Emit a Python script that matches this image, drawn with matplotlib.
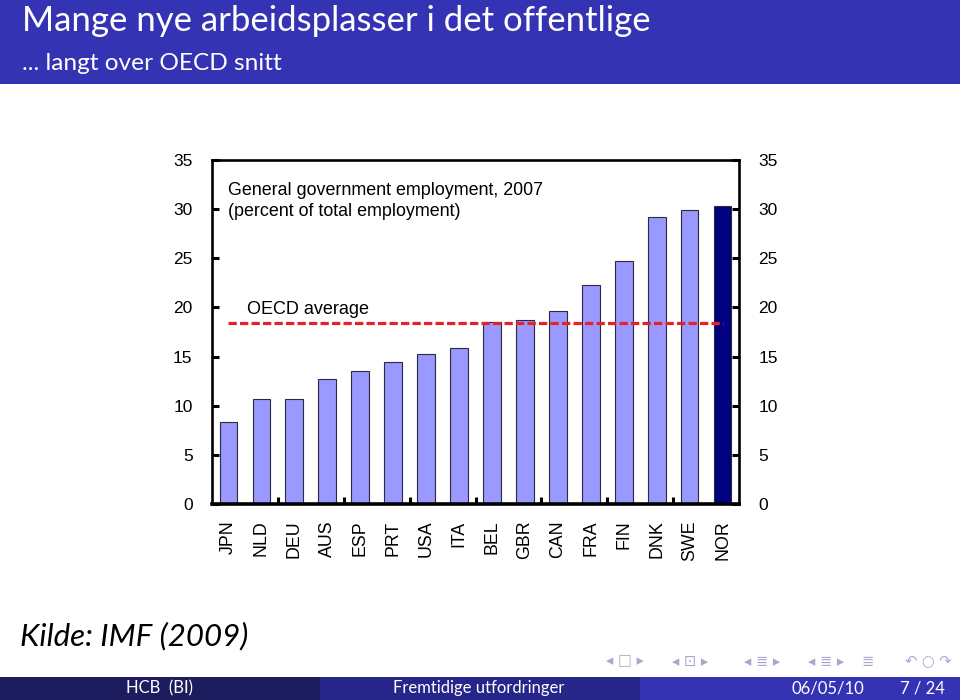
import matplotlib
matplotlib.use("Agg")
import matplotlib.pyplot as plt
from matplotlib.patches import Rectangle
import numpy as np

# ---- data ----
categories = ["JPN", "NLD", "DEU", "AUS", "ESP", "PRT", "USA", "ITA",
              "BEL", "GBR", "CAN", "FRA", "FIN", "DNK", "SWE", "NOR"]
values = [8.3, 10.7, 10.7, 12.7, 13.5, 14.4, 15.3, 15.9,
          18.5, 18.7, 19.6, 22.3, 24.7, 29.2, 29.9, 30.3]
oecd_avg = 18.4
highlight = "NOR"
yticks = [0, 5, 10, 15, 20, 25, 30, 35]

slide_title = "Mange nye arbeidsplasser i det offentlige"
slide_subtitle = "... langt over OECD snitt"
chart_note = "General government employment, 2007\n(percent of total employment)"
avg_label = "OECD average"
source = "Kilde: IMF (2009)"
foot_left = "HCB  (BI)"
foot_mid = "Fremtidige utfordringer"
foot_date = "06/05/10"
foot_page = "7 / 24"

W, H = 960, 700
fig = plt.figure(figsize=(W / 100, H / 100), dpi=100)
fig.patch.set_facecolor("white")

def fx(px):
    return px / W

def fy(py):
    return 1 - py / H

SLIDE_FONT = ["Lato", "DejaVu Sans"]

# ---- header band ----
fig.patches.append(Rectangle((0, fy(84)), 1, 84 / H, transform=fig.transFigure,
                             facecolor="#3333b3", edgecolor="none", zorder=0))
fig.text(fx(22), fy(21), slide_title, color="white", fontsize=25,
         family=SLIDE_FONT, va="center", ha="left")
fig.text(fx(22), fy(63), slide_subtitle, color="white", fontsize=17.6,
         family=SLIDE_FONT, va="center", ha="left")

# ---- footer band ----
fig.patches.append(Rectangle((0, 0), fx(320), 23 / H, transform=fig.transFigure,
                             facecolor="#1c1c5e", edgecolor="none"))
fig.patches.append(Rectangle((fx(320), 0), fx(320), 23 / H, transform=fig.transFigure,
                             facecolor="#26268a", edgecolor="none"))
fig.patches.append(Rectangle((fx(640), 0), fx(320), 23 / H, transform=fig.transFigure,
                             facecolor="#3333b3", edgecolor="none"))
for txt, px in [(foot_left, 160), (foot_mid, 479), (foot_date, 828), (foot_page, 922)]:
    fig.text(fx(px), fy(688), txt, color="white", fontsize=12,
             ha="center", va="center", family=SLIDE_FONT)

# navigation symbols
nav_groups = [("◂ □ ▸", 625), ("◂ ⊡ ▸", 690), ("◂ ≣ ▸", 762), ("◂ ≣ ▸", 826),
              ("≣", 868), ("↶ ○ ↷", 928)]
for sym, px in nav_groups:
    fig.text(fx(px), fy(661), sym, color="#a8a8cc", fontsize=10.5, ha="center",
             va="center", family="DejaVu Sans")

# source
fig.text(fx(20), fy(636), source, color="black", fontsize=22.5, style="italic",
         ha="left", va="center", family=SLIDE_FONT)

# ---- chart ----
ax = fig.add_axes([fx(212), fy(504), fx(739) - fx(212), (504 - 160) / H])
x = np.arange(len(categories))
colors = ["#000080" if c == highlight else "#9999ff" for c in categories]
ax.bar(x, values, width=0.54, color=colors, edgecolor="#2a2a40", linewidth=0.8, zorder=2)
ax.hlines(oecd_avg, x[0], x[-1], colors="#e8202a", linestyles=(0, (2.6, 1.0)),
          linewidth=2.3, zorder=3)

ax.set_xlim(-0.5, len(categories) - 0.5)
ax.set_ylim(yticks[0], yticks[-1])
ax.set_yticks(yticks)
ax.set_yticklabels([str(t) for t in yticks])
ax.set_xticks(np.arange(1.5, len(categories) - 1, 2))
ax.set_xticklabels([])
ax.tick_params(axis="x", direction="in", length=5, width=2.2, color="black")
ax.tick_params(axis="y", direction="in", length=5, width=2.2, labelsize=12.5,
               pad=14, left=True, right=True, labelleft=True, labelright=True)
for lab in ax.get_yticklabels():
    lab.set_family("Liberation Sans")

for i, c in enumerate(categories):
    ax.annotate(c, xy=(i, 0), xycoords=("data", "axes fraction"),
                xytext=(0, -12), textcoords="offset points",
                rotation=90, ha="center", va="top", fontsize=12.8,
                family="Liberation Sans")

for s in ["left", "right", "top"]:
    ax.spines[s].set_linewidth(1.9)
ax.spines["bottom"].set_linewidth(2.6)

ax.text(0.031, 0.881, chart_note, transform=ax.transAxes, fontsize=12.9,
        family="Liberation Sans", ha="left", va="center", linespacing=1.25)
ax.annotate(avg_label, xy=(0.066, oecd_avg), xycoords=("axes fraction", "data"),
            xytext=(0, 9.5), textcoords="offset points", fontsize=13,
            family="Liberation Sans", ha="left", va="center")

fig.savefig("out.png", dpi=100)
